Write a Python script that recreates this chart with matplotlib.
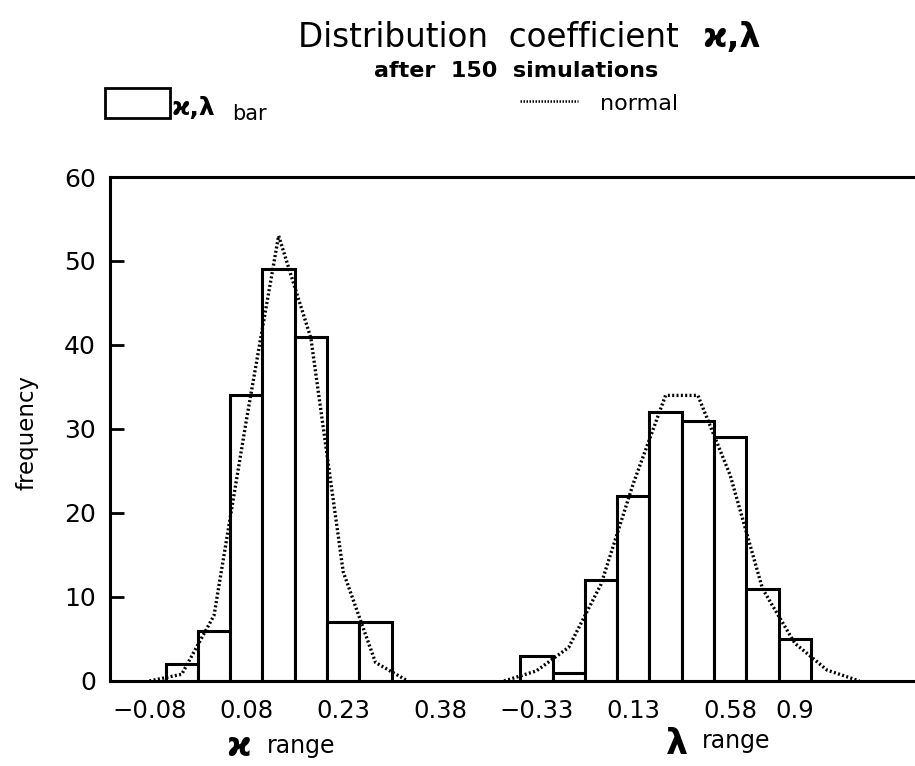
import matplotlib
matplotlib.use('Agg')
import matplotlib.pyplot as plt
from matplotlib.patches import Rectangle
from matplotlib.lines import Line2D
import numpy as np

plt.rcParams['font.family'] = ['DejaVu Sans']

# ---- data ----
kappa_counts = [2, 6, 34, 49, 41, 7, 7]                     # bins 1..7
kappa_normal = [0, 0.8, 7.8, 31, 53, 40.8, 13, 2.2, 0]      # bins 0..8
kappa_tick_labels = ['\u22120.08', '0.08', '0.23', '0.38']
kappa_tick_bins = [0, 3, 6, 9]

lambda_counts = [3, 1, 12, 22, 32, 31, 29, 11, 5]           # bins 1..9
lambda_normal = [0, 1.2, 4, 11.5, 23.5, 34, 34, 24.5, 11, 4.5, 1.3, 0]  # bins 0..11
lambda_tick_labels = ['\u22120.33', '0.13', '0.58', '0.9']
lambda_tick_bins = [1, 4, 7, 9]

yticks = [0, 10, 20, 30, 40, 50, 60]

# ---- layout ----
W, H = 915, 766
fig = plt.figure(figsize=(W / 100, H / 100), dpi=100)
ax = fig.add_axes([110 / W, 1 - 681 / H, 805 / W, (681 - 177) / H])

KX0 = 1.22   # slot offset of kappa bin 0
LX0 = 12.2   # slot offset of lambda bin 0

ax.bar(KX0 + np.arange(1, 1 + len(kappa_counts)), kappa_counts, width=1.0,
       facecolor='white', edgecolor='black', linewidth=2.2, zorder=2)
ax.bar(LX0 + np.arange(1, 1 + len(lambda_counts)), lambda_counts, width=1.0,
       facecolor='white', edgecolor='black', linewidth=2.2, zorder=2)

dot = (0, (0.6, 0.7))
ax.plot(KX0 + np.arange(len(kappa_normal)), kappa_normal, color='black',
        linewidth=2.4, linestyle=dot, zorder=3)
ax.plot(LX0 + np.arange(len(lambda_normal)), lambda_normal, color='black',
        linewidth=2.4, linestyle=dot, zorder=3)

ax.set_xlim(0, 805 / 32.3)
ax.set_ylim(0, 60)

ax.set_yticks(yticks)
ax.set_yticklabels([str(v) for v in yticks])
ax.tick_params(axis='y', direction='in', length=10, width=2.0, pad=10, labelsize=18)

xt = [KX0 + b for b in kappa_tick_bins] + [LX0 + b for b in lambda_tick_bins]
ax.set_xticks(xt)
ax.set_xticklabels(kappa_tick_labels + lambda_tick_labels)
ax.tick_params(axis='x', length=0, pad=13, labelsize=17.5)

for s in ['left', 'top', 'bottom']:
    ax.spines[s].set_linewidth(2.2)
ax.spines['right'].set_visible(False)

# ---- texts ----
def fx(px):
    return px / W

def fy(py):
    return 1 - py / H

fig.text(fx(298), fy(47), 'Distribution  coefficient', fontsize=23.5,
         ha='left', va='baseline')
fig.text(fx(702), fy(47), '\u03f0,\u03bb', fontsize=24, fontweight='bold',
         ha='left', va='baseline')
fig.text(fx(516), fy(77), 'after  150  simulations', fontsize=16,
         fontweight='bold', ha='center', va='baseline')

# legend
fig.add_artist(Rectangle((fx(105), fy(118)), (170 - 105) / W, (118 - 88) / H,
                         transform=fig.transFigure, facecolor='white',
                         edgecolor='black', linewidth=2.0))
fig.text(fx(172), fy(115), '\u03f0,\u03bb', fontsize=18, fontweight='bold',
         ha='left', va='baseline')
fig.text(fx(232), fy(120), 'bar', fontsize=15, ha='left', va='baseline')
fig.add_artist(Line2D([fx(520), fx(578)], [fy(101), fy(101)],
                      transform=fig.transFigure, color='black',
                      linewidth=1.8, linestyle=(0, (0.6, 0.6))))
fig.text(fx(600), fy(110), 'normal', fontsize=16, ha='left', va='baseline')

# axis labels
fig.text(fx(27), fy(432), 'frequency', fontsize=16.5, rotation=90,
         ha='center', va='center')
fig.text(fx(239), fy(756), '\u03f0', fontsize=24, fontweight='bold',
         ha='center', va='baseline')
fig.text(fx(267), fy(753), 'range', fontsize=17, ha='left', va='baseline')
fig.text(fx(677), fy(754), '\u03bb', fontsize=25, fontweight='bold',
         ha='center', va='baseline')
fig.text(fx(702), fy(748), 'range', fontsize=17, ha='left', va='baseline')

fig.savefig('out.png', dpi=100)
